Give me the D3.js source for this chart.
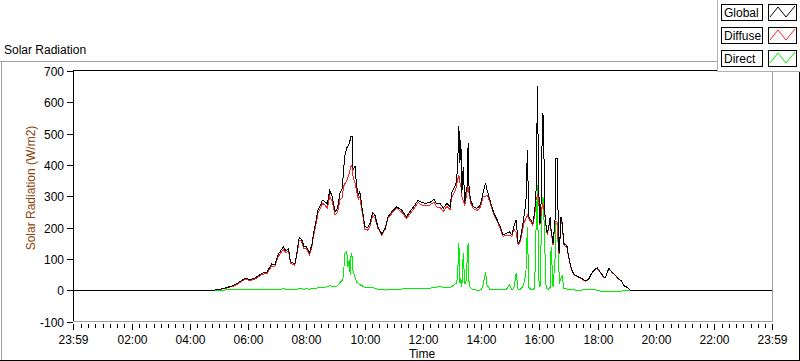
<!DOCTYPE html>
<html><head><meta charset="utf-8">
<script src="https://cdn.jsdelivr.net/npm/d3@7"></script>
<style>
html,body{margin:0;padding:0;background:#fff;}
svg{display:block;font-family:"Liberation Sans",Arial,sans-serif;}
</style></head>
<body><svg id="c" width="800" height="361"></svg>
<script>
// ---- data ----
const times = ["00:00","04:47","04:51","05:09","05:29","05:40","05:53","06:04","06:14","06:28","06:39","06:48","06:55","07:01","07:08","07:12","07:18","07:23","07:27","07:36","07:40","07:45","07:50","07:55","08:00","08:06","08:11","08:14","08:20","08:24","08:29","08:33","08:38","08:43","08:48","08:53","08:59","09:04","09:09","09:14","09:16","09:19","09:23","09:25","09:28","09:30","09:32","09:34","09:36","09:40","09:43","09:47","09:50","09:54","09:57","10:00","10:06","10:11","10:16","10:21","10:27","10:35","10:42","10:48","10:56","11:06","11:16","11:26","11:33","11:40","11:50","11:57","12:04","12:14","12:23","12:28","12:35","12:42","12:49","12:56","12:59","13:02","13:04","13:08","13:11","13:14","13:16","13:18","13:20","13:23","13:26","13:29","13:31","13:33","13:35","13:38","13:44","13:51","13:57","14:01","14:04","14:09","14:12","14:18","14:24","14:28","14:33","14:39","14:45","14:52","14:58","15:03","15:07","15:12","15:16","15:20","15:25","15:28","15:32","15:35","15:38","15:42","15:46","15:50","15:53","15:56","15:58","16:01","16:04","16:06","16:08","16:11","16:13","16:16","16:19","16:22","16:24","16:28","16:32","16:34","16:37","16:39","16:41","16:44","16:47","16:50","16:54","16:57","16:59","17:03","17:08","17:13","17:20","17:27","17:34","17:41","17:48","17:54","17:59","18:05","18:12","18:16","18:19","18:23","18:29","18:36","18:42","18:49","18:54","19:00","19:07","19:12","23:59"];
const globalVals = [0,0,1,6,15,25,38,35,39,54,59,84,81,113,129,139,126,134,91,84,118,169,163,139,139,120,145,177,225,259,272,288,283,276,320,299,251,262,310,326,379,430,455,459,469,480,493,491,384,395,336,304,315,267,240,203,201,214,248,240,203,180,198,235,251,267,256,235,251,265,288,280,278,280,291,276,278,262,278,267,310,320,326,342,384,523,406,480,310,395,278,320,331,469,320,288,267,262,269,288,315,342,320,288,256,240,225,203,177,182,187,177,203,225,150,160,203,235,278,448,235,225,214,246,320,652,342,214,299,565,555,246,214,182,203,235,192,150,225,421,421,139,118,235,214,150,145,139,118,86,59,49,43,38,30,35,56,67,72,59,43,41,56,70,59,49,38,30,15,10,1,0,0];
const diffuseVals = [0,0,1,5,13,22,35,32,36,50,55,78,76,105,122,130,120,128,86,80,112,160,156,133,133,115,138,170,215,248,262,278,272,262,300,285,240,248,290,295,331,340,350,360,372,385,398,395,363,342,320,290,300,255,230,195,192,205,238,232,198,176,195,230,246,262,250,229,244,258,280,273,270,272,282,266,265,252,268,258,298,305,310,325,350,368,345,335,300,285,270,300,315,331,310,280,260,255,262,280,300,300,305,282,250,235,220,198,172,176,175,172,195,185,145,155,190,215,230,240,228,220,208,236,290,304,300,210,250,278,267,240,210,178,198,228,185,145,216,222,216,130,115,230,208,146,140,135,114,83,57,47,42,37,29,34,54,65,70,58,42,40,55,70,58,48,37,29,15,10,1,0,0];
const directVals = [0,0,0,1,2,2,3,3,2,3,3,4,3,4,4,5,4,4,3,3,4,5,5,4,5,4,5,6,7,8,8,9,10,12,15,12,12,15,25,33,44,118,123,75,97,49,118,107,59,43,27,22,18,15,12,10,10,10,10,6,4,2,1,2,3,3,4,6,5,5,6,5,6,7,9,10,14,9,8,10,12,15,18,22,38,150,22,38,10,118,20,30,97,150,17,8,2,1,1,5,20,59,17,2,2,3,3,2,2,3,17,2,5,54,3,3,10,22,54,203,10,3,2,8,200,336,40,10,200,299,290,139,20,2,5,10,139,10,100,215,208,118,22,38,49,5,6,4,3,2,2,1,1,1,2,2,2,2,0,-2,-3,-4,-4,-4,-4,-4,-4,-3,0,1,0,0,0];
const seriesNames = ["Global","Diffuse","Direct"];
const yTicks = [-100,0,100,200,300,400,500,600,700];
const xTickLabels = ["23:59","02:00","04:00","06:00","08:00","10:00","12:00","14:00","16:00","18:00","20:00","22:00","23:59"];
const minorStep = 15; // minutes between minor ticks

// ---- helpers ----
const toMin = s => { const [h,m] = s.split(":").map(Number); return h*60+m; };
const colors = {Global:"#000000", Diffuse:"#ff2020", Direct:"#00ee00"};
const seriesVals = {Global:globalVals, Diffuse:diffuseVals, Direct:directVals};

const svg = d3.select("#c");
const L = 73, R = 772, T = 71, B = 321.7;
const x = d3.scaleLinear().domain([-1, 1439]).range([L, R]);
const y = d3.scaleLinear().domain([-100, 700]).range([B, T]);

// outer panel
svg.append("line").attr("x1",0).attr("x2",717).attr("y1",61.5).attr("y2",61.5).attr("stroke","#a0a0a0");
svg.append("line").attr("x1",1.5).attr("x2",1.5).attr("y1",61).attr("y2",360).attr("stroke","#a0a0a0");
svg.append("line").attr("x1",0).attr("x2",800).attr("y1",360.5).attr("y2",360.5).attr("stroke","#000");
svg.append("line").attr("x1",799.5).attr("x2",799.5).attr("y1",72).attr("y2",361).attr("stroke","#000");

// title
svg.append("text").attr("x",4).attr("y",54).attr("font-size",12).attr("fill","#000").text("Solar Radiation");

// plot frame
const frame = svg.append("g").attr("shape-rendering","crispEdges");
frame.append("line").attr("x1",L).attr("x2",R).attr("y1",70.5).attr("y2",70.5).attr("stroke","#000");
frame.append("line").attr("x1",L+0.5).attr("x2",L+0.5).attr("y1",70).attr("y2",322).attr("stroke","#000");
frame.append("line").attr("x1",R+0.5).attr("x2",R+0.5).attr("y1",70).attr("y2",322).attr("stroke","#a0a0a0");
frame.append("line").attr("x1",L).attr("x2",R+1).attr("y1",321.5).attr("y2",321.5).attr("stroke","#a0a0a0");

// y axis ticks & labels
const yg = svg.append("g");
yTicks.forEach(v => {
  const yy = Math.round(y(v)) + 0.5;
  yg.append("line").attr("x1",67).attr("x2",L).attr("y1",yy).attr("y2",yy).attr("stroke","#000").attr("shape-rendering","crispEdges");
  yg.append("text").attr("x",64).attr("y",yy).attr("dy","0.35em").attr("text-anchor","end").attr("font-size",12).attr("fill","#000").text(v);
});

// x axis ticks & labels
const xg = svg.append("g");
const majorT = xTickLabels.map((s,i) => i===0 ? toMin(s)-1440 : toMin(s));
const minorT = d3.range(minorStep, 1440, minorStep).filter(t => t % 120 !== 0);
minorT.forEach(t => {
  const xx = Math.round(x(t)) + 0.5;
  xg.append("line").attr("x1",xx).attr("x2",xx).attr("y1",324).attr("y2",328).attr("stroke","#000").attr("shape-rendering","crispEdges");
});
majorT.forEach((t,i) => {
  const xx = Math.round(x(t)) + 0.5;
  xg.append("line").attr("x1",xx).attr("x2",xx).attr("y1",324).attr("y2",330).attr("stroke","#000").attr("shape-rendering","crispEdges");
  xg.append("text").attr("x",xx).attr("y",344).attr("text-anchor","middle").attr("font-size",12).attr("fill","#000").text(xTickLabels[i]);
});

// axis titles
svg.append("text").attr("x",422).attr("y",358).attr("text-anchor","middle").attr("font-size",12).attr("fill","#000").text("Time");
svg.append("text").attr("transform","translate(35,188) rotate(-90)").attr("text-anchor","middle").attr("font-size",12).attr("fill","#8a4208").text("Solar Radiation (W/m2)");

// data lines (Direct first, Global on top)
const tm = times.map(toMin);
const line = d3.line().x(d => x(d[0])).y(d => y(d[1]));
["Direct","Diffuse","Global"].forEach(name => {
  const pts = tm.map((t,i) => [t, seriesVals[name][i]]);
  svg.append("path").attr("d", line(pts)).attr("fill","none").attr("stroke",colors[name]).attr("stroke-width",1).attr("shape-rendering","crispEdges");
});

// legend panel
const lg = svg.append("g");
lg.append("rect").attr("x",717).attr("y",0).attr("width",83).attr("height",72).attr("fill","#fff");
lg.append("line").attr("x1",717.5).attr("x2",717.5).attr("y1",0).attr("y2",72).attr("stroke","#b0b0b0");
lg.append("line").attr("x1",717).attr("x2",800).attr("y1",71.5).attr("y2",71.5).attr("stroke","#b0b0b0");
seriesNames.forEach((name,i) => {
  const y0 = 4 + i*23;
  lg.append("rect").attr("x",721.5).attr("y",y0+0.5).attr("width",41).attr("height",16).attr("fill","#fff").attr("stroke","#000").attr("shape-rendering","crispEdges");
  lg.append("text").attr("x",724).attr("y",y0+13).attr("font-size",12).attr("fill","#000").text(name);
  lg.append("rect").attr("x",768.5).attr("y",y0+0.5).attr("width",28).attr("height",16).attr("fill","#fff").attr("stroke","#000").attr("shape-rendering","crispEdges");
  const sw = [[770,y0+13],[778,y0+3],[786,y0+13],[795,y0+2]];
  lg.append("path").attr("d", d3.line()(sw)).attr("fill","none").attr("stroke",colors[name]).attr("stroke-width",1);
});
</script></body></html>
